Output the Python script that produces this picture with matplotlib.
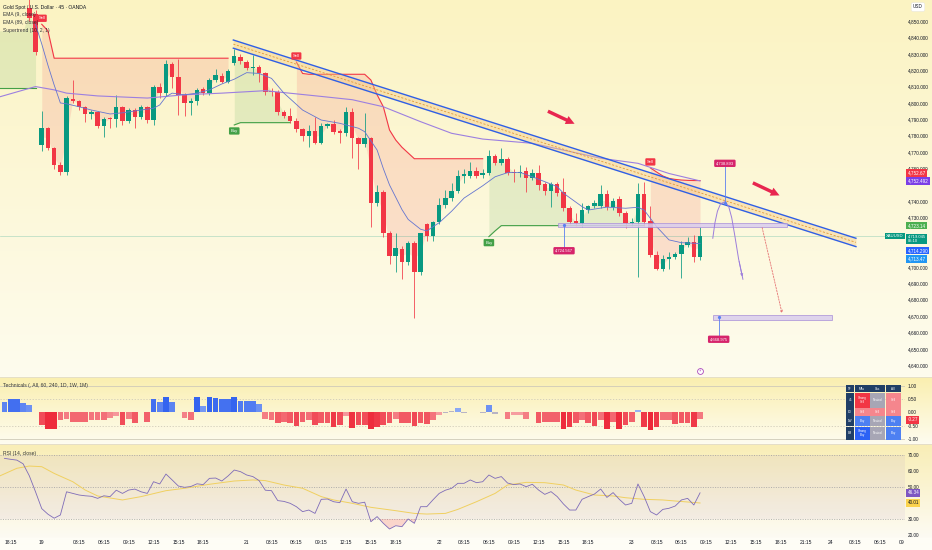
import numpy as np
import matplotlib.pyplot as plt
import matplotlib.transforms as mtransforms
from matplotlib.colors import to_rgb
from matplotlib.patches import Rectangle
from matplotlib.lines import Line2D

plt.rcParams['font.family'] = ['Liberation Sans', 'DejaVu Sans']

# ---------------- data (45 min bars, bar 0 = first visible) ----------------
opens = [4858, 4854, 4774.5, 4784.5, 4772.5, 4762, 4758, 4802.5, 4801, 4797.5,
         4793.5, 4794.5, 4786, 4791, 4790, 4797.5, 4789, 4795.5, 4791.5, 4797.5,
         4789.5, 4810, 4806, 4824, 4816, 4805, 4800.2, 4801, 4808.5, 4806.3,
         4814, 4816.6, 4813, 4824.6, 4828.2, 4825.2, 4821.5, 4822.1, 4818.1, 4807.5,
         4806.9, 4794.7, 4792.1, 4789, 4784, 4779.9, 4783.1, 4775.8, 4786, 4787,
         4783.1, 4781.5, 4794.7, 4778.8, 4774.8, 4778.5, 4738.8, 4745.9, 4720.9, 4706.7,
         4711.2, 4702.8, 4714.4, 4697.1, 4726.1, 4718.9, 4727.6, 4737.8, 4741.9, 4746.3,
         4755.5, 4755.5, 4758.7, 4756, 4757, 4767.7, 4763.6, 4765.8, 4758.1, 4757.1,
         4758.5, 4754.4, 4757.1, 4750.4, 4746.3, 4750.4, 4745.5, 4735.8, 4728.2, 4726.6,
         4734.7, 4737.2, 4737.2, 4744.3, 4736.4, 4741.5, 4732.7, 4726.6, 4727.6, 4744.5,
         4728.2, 4707.3, 4698.6, 4704.9, 4706.3, 4707.7, 4713.4, 4715, 4705.9]
highs = [4864, 4857, 4795, 4785.5, 4773, 4764, 4804, 4814, 4802, 4798,
         4796, 4795, 4791.5, 4791.5, 4805, 4798, 4797, 4797, 4799, 4798,
         4811, 4812, 4826, 4825, 4827, 4806, 4803, 4809, 4810, 4815,
         4821, 4818, 4821, 4833, 4830, 4826, 4829, 4823, 4819, 4809,
         4808, 4795.5, 4797, 4791, 4785, 4786.6, 4791.5, 4788, 4788, 4789.6,
         4784, 4797.7, 4797, 4779.5, 4793.7, 4779.5, 4750, 4747, 4722, 4721,
         4713, 4716, 4716, 4721, 4727, 4728, 4742, 4747, 4751, 4759,
         4760, 4764, 4761, 4760, 4771.3, 4769, 4772.4, 4767, 4760, 4762,
         4761, 4760, 4762, 4752, 4752, 4752, 4754, 4737, 4733, 4739,
         4738, 4741, 4750, 4747, 4742, 4743, 4734, 4730, 4751, 4752,
         4737, 4710, 4707, 4709, 4709, 4716, 4718.5, 4719.3, 4724.6]
lows = [4850, 4829, 4771, 4771.3, 4760, 4756, 4756, 4800, 4795.5, 4788.5,
        4790, 4784.5, 4779.5, 4785, 4785.5, 4786.5, 4788, 4784.5, 4790, 4787.5,
        4786.5, 4803, 4804, 4809, 4792.5, 4792, 4792.7, 4799, 4805, 4805,
        4813, 4812, 4812, 4823, 4824, 4820, 4817, 4813, 4805, 4804,
        4792.7, 4791, 4788, 4782, 4777, 4773.4, 4775, 4775, 4785, 4781,
        4775.4, 4780, 4766.3, 4760, 4773, 4724.6, 4737, 4718.5, 4702, 4697,
        4692.5, 4701, 4668.9, 4695, 4716, 4716, 4726, 4736, 4740, 4745,
        4751, 4754, 4754, 4754, 4756, 4762, 4762, 4756, 4752, 4755,
        4746, 4753, 4747, 4744, 4736.8, 4743, 4734, 4726, 4725, 4724.6,
        4733, 4736, 4736, 4735, 4735, 4731, 4724, 4725, 4694, 4725,
        4706, 4698, 4697.5, 4698.7, 4705, 4693, 4712, 4703, 4704]
closes = [4852, 4831, 4784.5, 4772.5, 4762, 4758, 4803, 4801, 4797.5, 4793.5,
          4794.5, 4786, 4790.5, 4790, 4797.5, 4789, 4795.5, 4791.5, 4797.5, 4789.5,
          4810, 4806, 4824, 4816, 4805, 4800, 4801.2, 4808, 4806.3, 4814,
          4817, 4813, 4819.5, 4828.7, 4825.8, 4821.2, 4822, 4818.1, 4806.9, 4806.5,
          4794.7, 4792.1, 4789, 4784, 4779.9, 4783.1, 4775.8, 4786, 4787, 4782.5,
          4781.5, 4794.7, 4778.8, 4774.8, 4778.5, 4738.8, 4745.9, 4720.9, 4706.7, 4711.4,
          4702.8, 4714.4, 4697.1, 4720.5, 4718.9, 4727.6, 4737.8, 4741.9, 4746.3, 4755.5,
          4756.5, 4758.7, 4755.5, 4757, 4767.7, 4763.6, 4765.8, 4757.5, 4757.1, 4758.1,
          4754.4, 4757.5, 4750, 4746.3, 4750.4, 4745.3, 4735.8, 4727.2, 4726.8, 4734.7,
          4737.2, 4739.2, 4744.3, 4736.4, 4740.4, 4732.7, 4726.6, 4727.6, 4744.5, 4727.6,
          4707.3, 4698.6, 4704.7, 4706.3, 4707.7, 4713.4, 4715, 4705.9, 4719.045]

# body middles of the bars hidden behind the legend (bars -5..-1)
pre_mid = [4844, 4844, 4844, 4844, 4844]

# supertrend segments: (first bar, direction, value per bar)
st_segments = [
    (-5, 'up', [4809, 4809, 4809, 4809, 4809, 4809, 4809]),
    (2, 'dn', [4848, 4844,
               4827.3, 4827.3, 4827.3, 4827.3, 4827.3, 4827.3, 4827.3, 4827.3, 4827.3, 4827.3,
               4827.3, 4827.3, 4827.3, 4827.3, 4827.3, 4827.3, 4827.3, 4827.3, 4827.3, 4827.3,
               4827.3, 4827.3, 4827.3, 4827.3, 4827.3, 4827.3, 4827.3, 4827.3, 4827.3]),
    (33, 'up', [4786.6, 4788, 4788, 4788, 4788, 4788, 4788, 4788, 4788, 4788]),
    (43, 'dn', [4825, 4818, 4817.5, 4817.5, 4817.5, 4817.5, 4817.5, 4817.5, 4817.5, 4817.5,
                4817.5, 4817.5, 4814, 4805, 4797.7, 4783.5, 4777.4, 4773, 4769.5,
                4766, 4766, 4766, 4766, 4766, 4766, 4766, 4766, 4766, 4766, 4766, 4766]),
    (74, 'up', [4718.5, 4722, 4725.2, 4725.2, 4725.2, 4725.2, 4725.2, 4725.2, 4725.2, 4725.2,
                4725.2, 4725.2, 4725.2, 4725.2, 4725.2, 4725.2, 4725.2, 4725.2, 4725.2, 4725.2,
                4725.2, 4725.2, 4725.2, 4725.2, 4725.2, 4725.2]),
    (100, 'dn', [4760.4, 4757.9, 4755.5, 4754, 4753.4, 4753, 4752.8, 4752.7, 4752.67]),
]

ema9_idx = [1, 2, 3, 4, 5, 6, 8, 10, 13, 15, 18, 20, 21, 22, 23, 25, 27, 29, 31, 33, 35, 37, 39,
            41, 44, 47, 50, 53, 54, 56, 57, 58, 60, 61, 63, 64, 66, 68, 70, 73, 75, 77, 79, 81,
            83, 85, 86, 89, 90, 93, 96, 98, 99, 101, 103, 105, 108]
ema9_val = [4848, 4836, 4823, 4811, 4800, 4799.5, 4797.7, 4795.7, 4793.3, 4794, 4795.7, 4796.8,
            4798.8, 4803.8, 4806, 4805, 4806, 4808, 4811.6, 4814.5, 4818.5, 4818, 4815, 4806,
            4795.7, 4789.6, 4787.6, 4784.6, 4782.5, 4771.3, 4760, 4750, 4735, 4729, 4723, 4722,
            4727, 4734, 4742, 4749.5, 4755, 4757.5, 4757.7, 4755, 4752, 4749, 4745, 4736.8,
            4734.7, 4736.5, 4735.8, 4736.4, 4734.7, 4724.6, 4716.5, 4714.8, 4714.29]
ema89_idx = [-5, 1, 4, 6, 11, 19, 25, 31, 38, 47, 52, 57, 63, 68, 73, 81, 92, 98, 103, 108]
ema89_val = [4803.5, 4810, 4808, 4806, 4804.3, 4803, 4805, 4806, 4807.5, 4804, 4802, 4797.7,
             4788.6, 4781.5, 4778, 4775.4, 4766.3, 4763.2, 4757, 4752.49]

# drawings
chan_x = [32.85, 133.1]
chan_hi = [4838.4, 4717.5]
chan_lo = [4833.4, 4712.4]
chan_mid = [4835.9, 4715.0]
arrow_tail = [(83.1, 4795.7), (116.1, 4752.0)]
arrow_head = [(88.2, 4786.6), (121.2, 4742.9)]
zone_x0 = [85.1, 110.05]
zone_x1 = [122.0, 129.2]
zone_lo = [4724.2, 4667.5]
zone_hi = [4727.0, 4670.5]
note_bar = [86.1, 112.0, 111.0]
note_anchor = [4725.4, 4738.8, 4669.7]
note_box = [4709.9, 4763.2, 4655.9]
note_text = ['4,724.567', '4,738.893', '4,668.975']
proj_x = [110.05, 110.4, 110.8, 111.3, 112.0, 112.6, 113.1, 113.6, 114.2, 114.9]
proj_y = [4717.5, 4727, 4734, 4738.5, 4739.8, 4737, 4730, 4719, 4705, 4692.5]
target_x = [117.9, 121.3]
target_y = [4725.6, 4670.1]

# oscillators, first value at bar -4
osc_start = -4
tech_vals = [0.38, 0.5, 0.5, 0.36, 0.29, 0.0, -0.48, -0.63, -0.63, -0.31,
             -0.25, -0.35, -0.35, -0.35, -0.29, -0.29, -0.31, -0.2, -0.13, -0.48,
             -0.25, -0.42, 0.0, -0.38, 0.5, 0.38, 0.57, 0.38, 0.02, -0.23,
             -0.31, 0.57, 0.25, 0.57, 0.53, 0.49, 0.49, 0.57, 0.43, 0.43,
             0.43, 0.3, -0.25, -0.29, -0.42, -0.35, -0.42, -0.5, -0.38, -0.31,
             -0.48, -0.42, -0.42, -0.57, -0.48, -0.13, -0.6, -0.48, -0.48, -0.63,
             -0.57, -0.48, -0.42, -0.25, -0.42, -0.42, -0.5, -0.42, -0.44, -0.29,
             -0.1, -0.04, 0.03, 0.15, -0.03, 0.01, 0.01, -0.03, 0.29, -0.05,
             0.02, -0.25, -0.1, -0.1, -0.25, 0.0, -0.42, -0.38, -0.38, -0.38,
             -0.63, -0.57, -0.42, -0.31, -0.42, -0.5, -0.31, -0.63, -0.35, -0.63,
             -0.48, -0.38, 0.09, -0.57, -0.67, -0.57, -0.31, -0.31, -0.44, -0.42,
             -0.42, -0.57, -0.27]
rsi_vals = [67.9, 67.3, 66.8, 64.5, 57, 47, 36.5, 33, 30.5, 32.5,
            47, 46, 45, 44.5, 44.2, 42.9, 44.5, 44, 48, 46,
            48.1, 48.7, 47, 46, 53.3, 51.9, 58.1, 54.4, 50.6, 49.8,
            50.3, 52, 51.5, 55.4, 55.6, 53.75, 56.9, 60.6, 59.6, 57.5,
            56.5, 54, 48, 47.7, 41.5, 41, 39.8, 37.7, 34.6, 35.6,
            33.5, 42.3, 42.5, 40.8, 40.2, 48.75, 40.8, 39.8, 40.5, 28.3,
            31.5, 27.3, 23.75, 25.8, 25.2, 30, 27.3, 37.7, 37.7, 42,
            46, 48, 49.2, 52.3, 52.3, 54.4, 52.7, 53.3, 57.5, 55.4,
            56.5, 52.5, 51.5, 51.9, 50.2, 51.7, 48.1, 45.4, 47.1, 44,
            39.4, 35.6, 35.6, 42.3, 44, 45.6, 48.75, 43.5, 46.5, 42.3,
            38.75, 39.8, 51.9, 44, 34.6, 32.5, 36, 36.7, 38.1, 41.9,
            42.9, 38.75, 46.34]
rsi_ma_idx = [-5, -2, 0, 2, 4, 7, 9, 11, 15, 18, 22, 25, 29, 33, 36, 38, 41, 44, 47, 49, 52,
              55, 59, 62, 64, 67, 69, 72, 75, 77, 80, 83, 86, 88, 91, 94, 96, 99, 102, 104, 108]
rsi_ma_val = [56.5, 61.7, 63.1, 62.7, 58.5, 53.3, 48.1, 44.4, 41.9, 44, 47.7, 49.2, 51.7, 53.75,
              54.4, 54, 51.25, 49.2, 44, 41.9, 39.8, 37.3, 35.2, 33.5, 33.1, 33.5, 36, 40.8, 46,
              51.25, 52.9, 52.7, 51.25, 48.1, 45, 44.4, 43.3, 42.3, 41.9, 41.25, 40.01]

tech_tf = ['45', '1D', '1W', '1M']
tech_ma = ['Strong\nSell', 'Sell', 'Buy', 'Strong\nBuy']
tech_osc = ['Neutral', 'Sell', 'Neutral', 'Neutral']
tech_all = ['Sell', 'Sell', 'Buy', 'Buy']

time_idx = [-3, 2, 8, 12, 16, 20, 24, 28, 35, 39, 43, 47, 51, 55, 59, 66, 70, 74, 78, 82, 86,
            90, 97, 101, 105, 109, 113, 117, 121, 125, 129, 133, 137, 140.5]
time_lbl = ['18:15', '19', '03:15', '06:15', '09:15', '12:15', '15:15', '18:15', '21', '03:15',
            '06:15', '09:15', '12:15', '15:15', '18:15', '22', '03:15', '06:15', '09:15', '12:15',
            '15:15', '18:15', '23', '03:15', '06:15', '09:15', '12:15', '15:15', '18:15', '21:15',
            '24', '03:15', '06:15', '09']
price_ticks = np.arange(4640, 4851, 10)
hidden_ticks = [4750, 4720, 4710]   # covered by the value tags on the scale

GREEN, RED = '#089981', '#f23645'
ST_UP, ST_DN = '#43a047', '#f23645'
TXT = '#131722'

# ---------------- figure ----------------
W, H = 932, 550
fig = plt.figure(figsize=(W / 100, H / 100), dpi=100)

bgax = fig.add_axes([0, 0, 1, 1], zorder=-10)
bgax.axis('off')
img = np.ones((H, 1, 3))


def band(y0, y1, c0, c1):
    t = np.linspace(0, 1, y1 - y0)[:, None]
    img[y0:y1, 0, :] = (1 - t) * np.array(to_rgb(c0)) + t * np.array(to_rgb(c1))


band(0, 377, '#fbf3c2', '#fefcee')
band(377, 444, '#faefb0', '#fefcef')
band(444, 538, '#f9eeb6', '#fdfbf3')
band(538, 550, '#fefdf6', '#fefdf6')
bgax.imshow(img, aspect='auto', extent=[0, 1, 0, 1])

XL = (-4.72, 141.0)


def pane(top, bottom):
    a = fig.add_axes([0, 1 - bottom / H, 905 / W, (bottom - top) / H])
    a.set_facecolor('none')
    for s in a.spines.values():
        s.set_visible(False)
    a.set_xlim(*XL)
    a.set_xticks([])
    a.yaxis.tick_right()
    a.tick_params(axis='y', length=0, pad=2.2, labelsize=3.4, labelcolor=TXT)
    return a


def tag(axis, value, text, fc, dy=0, tc='white', dx=2.5, ha='left', fs=3.3):
    tr = mtransforms.blended_transform_factory(axis.transAxes, axis.transData)
    tr = tr + mtransforms.ScaledTranslation(dx / 100, dy / 100, fig.dpi_scale_trans)
    axis.text(1.0, value, text, transform=tr, ha=ha, va='center', fontsize=fs, color=tc,
              linespacing=1.0, bbox=dict(boxstyle='square,pad=0.25', fc=fc, ec='none'),
              clip_on=False, zorder=30)


# ---------------- main pane ----------------
ax = pane(0, 376)
ax.set_ylim(4633.5, 4862.8)
ax.set_yticks(price_ticks)
ax.set_yticklabels(['' if p in hidden_ticks else f'{p:,.3f}' for p in price_ticks])

o, h, l, c = map(np.array, (opens, highs, lows, closes))
bars = np.arange(len(o))
mid = (o + c) / 2
col = np.where(c >= o, GREEN, RED)
ax.vlines(bars, l, h, colors=col, lw=0.55, zorder=4)
ax.bar(bars, np.maximum(np.abs(c - o), 0.5), bottom=np.minimum(o, c), width=0.72,
       color=col, lw=0, zorder=5)

for first, kind, vals in st_segments:
    xs = np.arange(first, first + len(vals))
    m = np.array([pre_mid[i + 5] if i < 0 else mid[i] for i in xs])
    sc = ST_UP if kind == 'up' else ST_DN
    ax.fill_between(xs, vals, m, color=sc, alpha=0.13, lw=0, zorder=1)
    ax.plot(xs, vals, color=sc, lw=0.8, zorder=3)
    if first >= 0:
        ax.annotate('Buy' if kind == 'up' else 'Sell', (first, vals[0]),
                    xytext=(0, -6 if kind == 'up' else 6), textcoords='offset pixels',
                    ha='center', va='center', fontsize=3, color='white', zorder=12,
                    bbox=dict(boxstyle='round,pad=0.4,rounding_size=0.25', fc=sc, ec='none'))

ax.plot(ema89_idx, ema89_val, color='#9c7fe0', lw=0.8, zorder=6)
ax.plot(ema9_idx, ema9_val, color='#6475d0', lw=0.6, zorder=6)

ax.fill_between(chan_x, chan_lo, chan_hi, color='#f5c77e', alpha=0.4, lw=0, zorder=7)
ax.plot(chan_x, chan_hi, color='#2f5fe6', lw=1.0, zorder=8)
ax.plot(chan_x, chan_lo, color='#2f5fe6', lw=1.0, zorder=8)
ax.plot(chan_x, chan_mid, color='#e09a3a', lw=0.6, ls=(0, (2.5, 2)), zorder=8)

for tail, head in zip(arrow_tail, arrow_head):
    ax.annotate('', xy=head, xytext=tail, zorder=11,
                arrowprops=dict(arrowstyle='simple,head_length=0.9,head_width=0.9,tail_width=0.35',
                                fc='#e8264f', ec='none', mutation_scale=7))

for x0, x1, lo, hi in zip(zone_x0, zone_x1, zone_lo, zone_hi):
    ax.add_patch(Rectangle((x0, lo), x1 - x0, hi - lo, fc='#d9cdee', ec='#a990d8',
                           lw=0.6, alpha=0.85, zorder=9))

ax.plot(proj_x, proj_y, color='#9c7ddb', lw=0.7, zorder=10)
ax.annotate('', xy=(proj_x[-1], proj_y[-1]), xytext=(proj_x[-2], proj_y[-2]), zorder=10,
            arrowprops=dict(arrowstyle='->', color='#9c7ddb', lw=0.6, mutation_scale=4))
ax.annotate('', xy=(target_x[1], target_y[1]), xytext=(target_x[0], target_y[0]), zorder=10,
            arrowprops=dict(arrowstyle='->', color='#e57373', lw=0.6, ls=(0, (2, 1.5)),
                            mutation_scale=4))

for xb, an, yb, tx in zip(note_bar, note_anchor, note_box, note_text):
    ax.plot([xb, xb], [an, yb], color='#5b7ff0', lw=0.6, zorder=11)
    ax.plot(xb, an, 'o', ms=1.3, color='#5b7ff0', zorder=11)
    ax.text(xb, yb, tx, ha='center', va='center', fontsize=3, color='white', zorder=13,
            bbox=dict(boxstyle='round,pad=0.4,rounding_size=0.3', fc='#d6246b', ec='none'))

ax.axhline(closes[-1], color=GREEN, lw=0.5, alpha=0.3, zorder=2)

ev = mtransforms.blended_transform_factory(ax.transData, ax.transAxes)
ax.plot(len(closes) - 1, 0.014, 'o', ms=4.2, mfc='white', mec='#ab47bc', mew=0.6,
        transform=ev, zorder=12, clip_on=False)
ax.text(len(closes) - 1, 0.014, '\u26a1', transform=ev, ha='center', va='center', fontsize=2.6,
        color='#ab47bc', family='DejaVu Sans', zorder=13)

tag(ax, 4752.67, '4,752.67', '#f23645', dy=7.5)
tag(ax, 4752.492, '4,752.492', '#7b3fe6')
tag(ax, 4723.14, '4,723.14', '#4caf50', dy=3.6)
tag(ax, closes[-1], '4,719.045\n05:10', GREEN, dy=-3, fs=3.0)
tag(ax, closes[-1], 'XAUUSD', GREEN, dx=-1.5, ha='right', dy=-0.5, fs=3.0)
tag(ax, 4714.29, '4,714.290', '#2962ff', dy=-7.0)
tag(ax, 4713.47, '4,713.47', '#2196f3', dy=-14.0)
fig.text(918 / W, 1 - 7 / H, 'USD', ha='center', va='center', fontsize=3.3, color=TXT,
         bbox=dict(boxstyle='round,pad=0.4', fc='white', ec='#e3e3e3', lw=0.3))

legend = ['Gold Spot / U.S. Dollar \u00b7 45 \u00b7 OANDA', 'EMA (9, close)', 'EMA (89, close)',
          'Supertrend (10, 2, 1)']
for k, t in enumerate(legend):
    fig.text(3 / W, 1 - (7 + 7.7 * k) / H, t, ha='left', va='center', fontsize=3.6,
             color=TXT, alpha=0.85 if k else 1.0)

# ---------------- technicals pane ----------------
ax2 = pane(377, 443)
ax2.set_ylim(-1.16, 1.33)
ax2.set_yticks([1, 0.5, 0, -0.5, -1])
ax2.set_yticklabels(['1.00', '0.50', '0.00', '-0.50', '-1.00'])
for lv, ls in ((1, '-'), (-1, '-'), (0.5, (0, (1.5, 2))), (-0.5, (0, (1.5, 2)))):
    ax2.axhline(lv, color='#cfcab8', lw=0.6, ls=ls, zorder=1)


def tech_color(v):
    if abs(v) < 0.06:
        return '#b8b4c4'
    t = min(abs(v) / 0.65, 1.0)
    lo, hi = (('#a8c0f6', '#2457ee') if v > 0 else ('#f8b2b2', '#ee2838'))
    return tuple((1 - t) * np.array(to_rgb(lo)) + t * np.array(to_rgb(hi)))


tx = np.arange(osc_start, osc_start + len(tech_vals))
ax2.bar(tx, tech_vals, width=0.92, color=[tech_color(v) for v in tech_vals], lw=0, zorder=2)
tag(ax2, tech_vals[-1], '-0.27', '#f23645', dy=-0.5)
fig.text(3 / W, 1 - 385.5 / H, 'Technicals (, All, 60, 240, 1D, 1W, 1M)', ha='left',
         va='center', fontsize=3.6, color=TXT, alpha=0.85)

tab = fig.add_axes([846 / W, 1 - 440 / H, 54.7 / W, 55 / H])
tab.set_xlim(846, 900.7)
tab.set_ylim(440, 385)
tab.axis('off')
col_edges = [(846, 854.3), (854.6, 869.5), (869.8, 885.3), (885.6, 900.7)]
row_edges = [(385, 392.3), (392.7, 407.5), (407.9, 415.8), (416.2, 426.2), (426.6, 440)]
cell_fc = {'Strong\nSell': '#f23645', 'Sell': '#f5868d', 'Neutral': '#a7a6b5',
           'Buy': '#4d80f2', 'Strong\nBuy': '#2c62f5'}
table = [['TF', 'MAs', 'Osc.', 'All']] + [list(r) for r in zip(tech_tf, tech_ma, tech_osc, tech_all)]
for r, row in enumerate(table):
    for cidx, txt in enumerate(row):
        (x0, x1), (y0, y1) = col_edges[cidx], row_edges[r]
        fc = '#203f66' if (r == 0 or cidx == 0) else cell_fc[txt]
        tab.add_patch(Rectangle((x0, y0), x1 - x0, y1 - y0, fc=fc, ec='none'))
        tab.text((x0 + x1) / 2, (y0 + y1) / 2, txt, ha='center', va='center', fontsize=2.2,
                 color='white', linespacing=1.0)

# ---------------- RSI pane ----------------
ax3 = pane(445, 537)
ax3.set_ylim(18.75, 76.25)
ax3.set_yticks([70, 60, 50, 40, 30, 20])
ax3.set_yticklabels(['70.00', '60.00', '50.00', '', '30.00', '20.00'])
ax3.axhspan(30, 70, color='#7e57c2', alpha=0.07, lw=0, zorder=0)
for lv in (70, 50, 30):
    ax3.axhline(lv, color='#8f8f99', lw=0.5, ls=(0, (1.5, 2)), alpha=0.9, zorder=1)
r = np.array(rsi_vals)
rx = np.arange(osc_start, osc_start + len(r))
ax3.fill_between(rx, r, 30, where=r < 30, interpolate=True, color='#f23645', alpha=0.18,
                 lw=0, zorder=1)
ax3.plot(rsi_ma_idx, rsi_ma_val, color='#f0d060', lw=0.7, zorder=2)
ax3.plot(rx, r, color='#7e6bb8', lw=0.6, zorder=3)
tag(ax3, rsi_vals[-1], '46.34', '#7e57c2')
tag(ax3, rsi_ma_val[-1], '40.01', '#fbd34d', tc=TXT)
fig.text(3 / W, 1 - 453 / H, 'RSI (14, close)', ha='left', va='center', fontsize=3.6,
         color=TXT, alpha=0.85)

ax3.set_xticks(time_idx)
ax3.set_xticklabels(time_lbl)
ax3.tick_params(axis='x', length=0, pad=2.4, labelsize=3.6, labelcolor=TXT)

for yy in (376.5, 444):
    fig.add_artist(Line2D([0, 1], [1 - yy / H] * 2, color='#e2dccb', lw=0.6))

fig.savefig('out.png', dpi=100)
